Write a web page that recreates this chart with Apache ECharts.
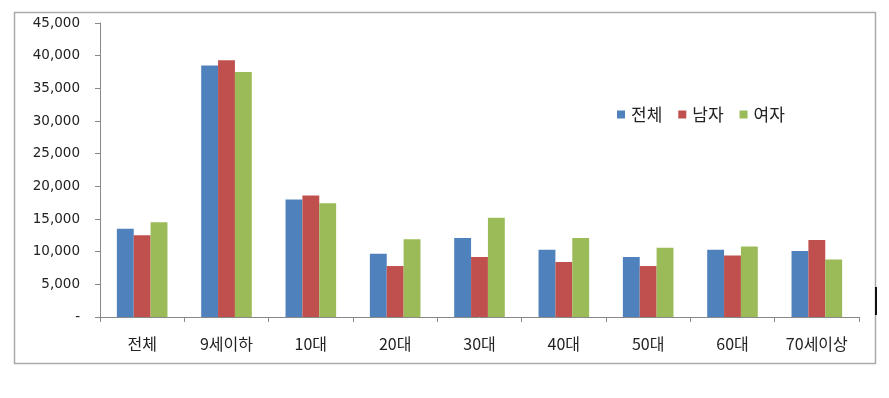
<!DOCTYPE html>
<html>
<head>
<meta charset="utf-8">
<script src="https://cdn.jsdelivr.net/npm/echarts@6/dist/echarts.min.js"></script>
<style>
  html, body { margin: 0; padding: 0; background: #fff; }
  #chart { width: 889px; height: 398px; }
</style>
</head>
<body>
<div id="chart"></div>
<script>
const categories = ['전체', '9세이하', '10대', '20대', '30대', '40대', '50대', '60대', '70세이상'];
const seriesNames = ['전체', '남자', '여자'];
const totalVals = [13500, 38500, 18000, 9700, 12100, 10300, 9200, 10300, 10100];
const maleVals = [12500, 39300, 18600, 7800, 9200, 8400, 7800, 9400, 11800];
const femaleVals = [14500, 37500, 17400, 11900, 15200, 12100, 10600, 10800, 8800];

const font = '"DejaVu Sans", "Noto Sans CJK KR", sans-serif';
const krFont = '"Noto Sans CJK KR", sans-serif';

const chart = echarts.init(document.getElementById('chart'));

const mkSeries = (name, data, color) => ({
  name: name,
  type: 'bar',
  data: data,
  barGap: '0%',
  barCategoryGap: '40%',
  itemStyle: { color: color },
  emphasis: { disabled: true }
});

chart.setOption({
  animation: false,
  textStyle: { fontFamily: font },
  grid: { left: 100, right: 30, top: 23, bottom: 81 },
  legend: {
    data: seriesNames,
    left: 612,
    top: 101,
    itemWidth: 8,
    itemHeight: 8,
    itemGap: 16,
    icon: 'rect',
    textStyle: { fontSize: 17, color: '#222', fontFamily: krFont, padding: [0, 0, 0, 1] }
  },
  xAxis: {
    type: 'category',
    data: categories,
    axisLine: { lineStyle: { color: '#888' } },
    axisTick: { show: true, alignWithLabel: false, length: 5, lineStyle: { color: '#888' } },
    axisLabel: { color: '#222', fontSize: 16, margin: 19, fontFamily: krFont }
  },
  yAxis: {
    type: 'value',
    min: 0,
    max: 45000,
    interval: 5000,
    axisLine: { show: true, lineStyle: { color: '#888' } },
    axisTick: { show: true, length: 5, lineStyle: { color: '#888' } },
    splitLine: { show: false },
    axisLabel: {
      color: '#222',
      fontSize: 13.5,
      margin: 20,
      formatter: v => v === 0 ? '-' : v.toLocaleString('en-US')
    }
  },
  graphic: [
    {
      type: 'rect',
      shape: { x: 14.5, y: 12.5, width: 861, height: 351 },
      style: { fill: 'none', stroke: '#aaa', lineWidth: 1.5 },
      z: -1
    },
    {
      type: 'rect',
      shape: { x: 875, y: 287, width: 2, height: 28 },
      style: { fill: '#111' }
    }
  ],
  series: [
    mkSeries(seriesNames[0], totalVals, '#4F81BD'),
    mkSeries(seriesNames[1], maleVals, '#C0504D'),
    mkSeries(seriesNames[2], femaleVals, '#9BBB59')
  ]
});
</script>
</body>
</html>
